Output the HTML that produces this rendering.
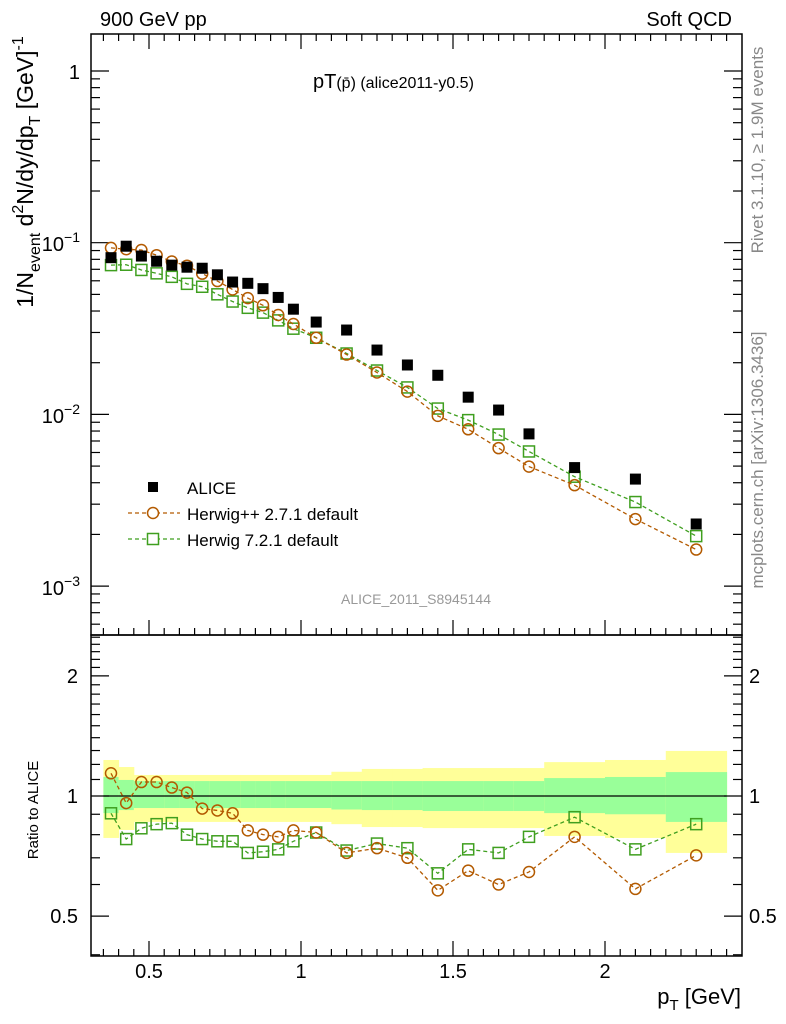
<!DOCTYPE html>
<html><head><meta charset="utf-8"><style>
html,body{margin:0;padding:0;background:#fff;}
svg{display:block;font-family:"Liberation Sans",sans-serif;}
</style></head><body>
<svg id="plot" width="786" height="1024" viewBox="0 0 786 1024"></svg>
<script>
const ptBins = [0.375,0.425,0.475,0.525,0.575,0.625,0.675,0.725,0.775,0.825,0.875,0.925,0.975,1.05,1.15,1.25,1.35,1.45,1.55,1.65,1.75,1.9,2.1,2.3];
const binLo = [0.35,0.4,0.45,0.5,0.55,0.6,0.65,0.7,0.75,0.8,0.85,0.9,0.95,1.0,1.1,1.2,1.3,1.4,1.5,1.6,1.7,1.8,2.0,2.2];
const binHi = [0.4,0.45,0.5,0.55,0.6,0.65,0.7,0.75,0.8,0.85,0.9,0.95,1.0,1.1,1.2,1.3,1.4,1.5,1.6,1.7,1.8,2.0,2.2,2.4];
const aliceVals = [0.0818,0.0954,0.0836,0.078,0.074,0.072,0.071,0.065,0.059,0.058,0.054,0.048,0.041,0.0345,0.031,0.0237,0.0194,0.0169,0.0126,0.0106,0.0077,0.0049,0.0042,0.0023];
const herwigPPRatio = [1.14,0.96,1.084,1.084,1.05,1.02,0.93,0.92,0.905,0.82,0.80,0.79,0.82,0.81,0.72,0.74,0.70,0.58,0.65,0.60,0.645,0.79,0.585,0.71];
const herwig7Ratio = [0.905,0.78,0.83,0.85,0.855,0.80,0.78,0.77,0.77,0.72,0.725,0.735,0.77,0.81,0.73,0.76,0.74,0.64,0.735,0.72,0.79,0.885,0.735,0.85];
const yellowHi = [1.231,1.182,1.129,1.129,1.129,1.129,1.129,1.129,1.129,1.129,1.129,1.129,1.129,1.129,1.15,1.169,1.169,1.175,1.175,1.175,1.175,1.216,1.231,1.297];
const yellowLo = [0.785,0.822,0.861,0.861,0.861,0.861,0.861,0.861,0.861,0.861,0.861,0.861,0.861,0.861,0.85,0.836,0.836,0.831,0.831,0.831,0.831,0.794,0.785,0.72];
const greenHi = [1.116,1.097,1.09,1.09,1.09,1.09,1.09,1.09,1.09,1.09,1.09,1.09,1.09,1.09,1.09,1.09,1.09,1.09,1.09,1.09,1.09,1.109,1.116,1.148];
const greenLo = [0.906,0.922,0.933,0.933,0.933,0.933,0.933,0.933,0.933,0.933,0.933,0.933,0.933,0.933,0.925,0.922,0.922,0.917,0.917,0.917,0.917,0.906,0.9,0.861];
const xTickLabels = ["0.5","1","1.5","2"];
const xTickVals = [0.5,1,1.5,2];

const NS="http://www.w3.org/2000/svg";
const svg=document.getElementById('plot');
const L=91,R=742,T=34,M=635,B=956;
const X=v=>-3+304*v;
const Ym=v=>71-171.7*Math.log10(v);
const Yr=v=>796-399*Math.log10(v);
const C1="#b35a00", C2="#3f9f1f";
function el(tag,attrs,parent){const e=document.createElementNS(NS,tag);for(const k in attrs)e.setAttribute(k,attrs[k]);(parent||svg).appendChild(e);return e;}
function txt(s,x,y,size,attrs){const t=el('text',Object.assign({x:x,y:y,'font-size':size},attrs||{}));t.textContent=s;return t;}

const bands=el('g',{});


for(let i=0;i<ptBins.length;i++){
  const x0=X(binLo[i]),x1=X(binHi[i]);
  const y=el('rect',{x:x0,y:Yr(yellowHi[i]),width:x1-x0+0.5,height:Yr(yellowLo[i])-Yr(yellowHi[i]),fill:"#ffff99"},bands);
  
  
  const g=el('rect',{x:x0,y:Yr(greenHi[i]),width:x1-x0+0.5,height:Yr(greenLo[i])-Yr(greenHi[i]),fill:"#99ff99"},bands);
  
  
}
el('line',{x1:X(0.35),x2:X(2.4),y1:Yr(1),y2:Yr(1),stroke:"#000","stroke-width":1.2});

const fr=el('g',{fill:"none",stroke:"#000","stroke-width":1.5});


el('rect',{x:L,y:T,width:R-L,height:M-T},fr);
el('rect',{x:L,y:M,width:R-L,height:B-M},fr);

const tk=el('g',{stroke:"#000","stroke-width":1.2});
for(let k=7;k<=48;k++){
  const vv=k*0.05, x=X(vv);
  if(x<=L||x>=R)continue;
  const major=(k%10===0);
  const len=major?15:7;
  [[T,1],[M,-1],[B,-1]].forEach(([y0,d])=>el('line',{x1:x,x2:x,y1:y0,y2:y0+d*len},tk));
}
for(let e=-4;e<=0;e++){for(let k=1;k<=9;k++){const v=k*Math.pow(10,e);const y=Ym(v);if(y<T||y>M)continue;const len=k==1?18:9;
  el('line',{x1:L,x2:L+len,y1:y,y2:y},tk);el('line',{x1:R,x2:R-len,y1:y,y2:y},tk);}}
[0.4,0.5,0.6,0.7,0.8,0.9,1,1.1,1.2,1.3,1.4,1.5,1.6,1.7,1.8,1.9,2,2.1,2.2,2.3,2.4,2.5].forEach(v=>{const y=Yr(v);if(y<M||y>B)return;const len=(v==0.5||v==1||v==2)?18:9;
  el('line',{x1:L,x2:L+len,y1:y,y2:y},tk);el('line',{x1:R,x2:R-len,y1:y,y2:y},tk);});

const hpp=aliceVals.map((v,i)=>v*herwigPPRatio[i]);
const h7=aliceVals.map((v,i)=>v*herwig7Ratio[i]);
function series(vals,Y,color,shape,name){
  const g=el('g',{});
  
  
  const pts=vals.map((v,i)=>X(ptBins[i])+','+Y(v)).join(' ');
  el('polyline',{points:pts,fill:"none",stroke:color,"stroke-width":1.3,"stroke-dasharray":"4,3"},g);
  vals.forEach((v,i)=>{const x=X(ptBins[i]),y=Y(v);let m;
    if(shape=='c')m=el('circle',{cx:x,cy:y,r:5.5,fill:"none",stroke:color,"stroke-width":1.5},g);
    else m=el('rect',{x:x-5.5,y:y-5.5,width:11,height:11,fill:"none",stroke:color,"stroke-width":1.5},g);
    
    
  });
}
series(h7,Ym,C2,'s','herwig7-series');
series(hpp,Ym,C1,'c','herwigpp-series');
const ag=el('g',{});


aliceVals.forEach((v,i)=>{const m=el('rect',{x:X(ptBins[i])-5.5,y:Ym(v)-5.5,width:11,height:11,fill:"#000"},ag);
  
  });
series(herwig7Ratio,Yr,C2,'s','herwig7-ratio');
series(herwigPPRatio,Yr,C1,'c','herwigpp-ratio');

const lab=el('g',{fill:"#000"});
xTickVals.forEach((v,i)=>{const t=txt(xTickLabels[i],X(v),978,20,{'text-anchor':'middle'});lab.appendChild(t);
  
  });

svg.insertAdjacentHTML('beforeend',`
<g font-family="Liberation Sans, sans-serif" fill="#000">
<text x="100" y="26" font-size="20">900 GeV pp</text>
<text x="732" y="26" font-size="20" text-anchor="end">Soft QCD</text>
<text x="80" y="79" font-size="20" text-anchor="end">1</text>
<text x="80" y="251" font-size="20" text-anchor="end">10<tspan dy="-9" font-size="14">−1</tspan></text>
<text x="80" y="423" font-size="20" text-anchor="end">10<tspan dy="-9" font-size="14">−2</tspan></text>
<text x="80" y="595" font-size="20" text-anchor="end">10<tspan dy="-9" font-size="14">−3</tspan></text>
<text x="78" y="683" font-size="20" text-anchor="end">2</text>
<text x="78" y="803" font-size="20" text-anchor="end">1</text>
<text x="78" y="923" font-size="20" text-anchor="end">0.5</text>
<text x="749" y="683" font-size="20">2</text>
<text x="749" y="803" font-size="20">1</text>
<text x="749" y="923" font-size="20">0.5</text>
<text x="313" y="88" font-size="20">pT<tspan font-size="16">(p̄)</tspan><tspan font-size="16"> (alice2011-y0.5)</tspan></text>
<text x="416" y="604" font-size="14" fill="#999" text-anchor="middle">ALICE_2011_S8945144</text>
<text x="741" y="1004" font-size="22" text-anchor="end">p<tspan dy="6" font-size="15">T</tspan><tspan dy="-6"> [GeV]</tspan></text>
<text transform="translate(33,172) rotate(-90)" font-size="23" text-anchor="middle">1/N<tspan dy="7" font-size="16">event</tspan><tspan dy="-7"> d</tspan><tspan dy="-10" font-size="16">2</tspan><tspan dy="10">N/dy/dp</tspan><tspan dy="7" font-size="16">T</tspan><tspan dy="-7">  [GeV]</tspan><tspan dy="-10" font-size="16">-1</tspan></text>
<text transform="translate(38,810) rotate(-90)" font-size="15" text-anchor="middle">Ratio to ALICE</text>
<text transform="translate(763,150) rotate(-90)" font-size="17" fill="#888" text-anchor="middle">Rivet 3.1.10, ≥ 1.9M events</text>
<text transform="translate(763,460) rotate(-90)" font-size="17" fill="#888" text-anchor="middle">mcplots.cern.ch [arXiv:1306.3436]</text>
<g>
<rect x="148" y="482" width="10" height="10" fill="#000"/>
<text x="187" y="494" font-size="17">ALICE</text>
<line x1="128" x2="180" y1="513" y2="513" stroke="${C1}" stroke-width="1.3" stroke-dasharray="4,3"/>
<circle cx="153" cy="513" r="5.5" fill="#fff" stroke="${C1}" stroke-width="1.5"/>
<text x="187" y="520" font-size="17">Herwig++ 2.7.1 default</text>
<line x1="128" x2="180" y1="539" y2="539" stroke="${C2}" stroke-width="1.3" stroke-dasharray="4,3"/>
<rect x="147.5" y="533.5" width="11" height="11" fill="#fff" stroke="${C2}" stroke-width="1.5"/>
<text x="187" y="546" font-size="17">Herwig 7.2.1 default</text>
</g>
</g>`);
</script>
</body></html>
